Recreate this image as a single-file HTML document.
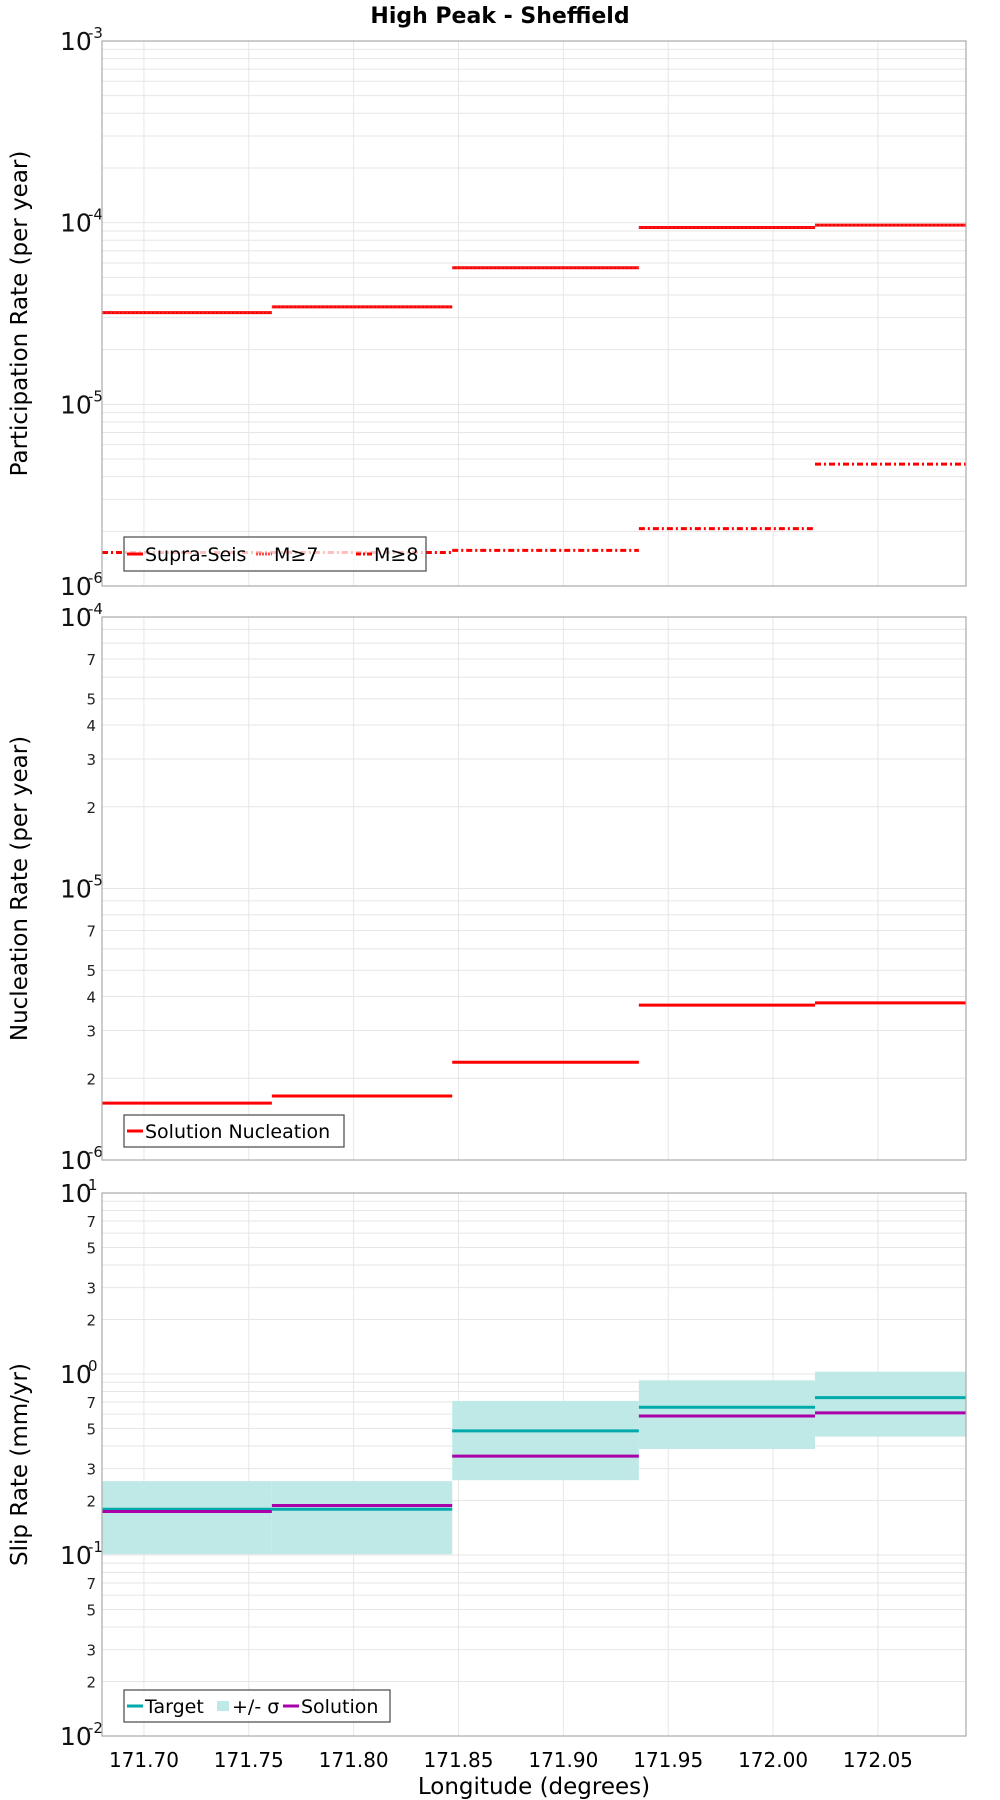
<!DOCTYPE html>
<html><head><meta charset="utf-8"><style>
html,body{margin:0;padding:0;background:#fff;}
svg{display:block;font-family:"DejaVu Sans","Liberation Sans",sans-serif;}
</style></head><body>
<svg id="chart" width="1000" height="1800" viewBox="0 0 1000 1800" xmlns="http://www.w3.org/2000/svg">
<text x="500" y="23" text-anchor="middle" font-size="22" font-weight="bold">High Peak - Sheffield</text>
</svg>
<script>
// Shared x data
const segEdges = [171.680, 171.761, 171.847, 171.936, 172.020, 172.092];
const xTicks = [171.70, 171.75, 171.80, 171.85, 171.90, 171.95, 172.00, 172.05];
const xTickLabels = ["171.70","171.75","171.80","171.85","171.90","171.95","172.00","172.05"];
// Panel 1: participation
const partSupra = [3.2e-5, 3.44e-5, 5.65e-5, 9.4e-5, 9.7e-5];
const partM7 = [3.2e-5, 3.44e-5, 5.65e-5, 9.4e-5, 9.7e-5];
const partM8 = [1.53e-6, 1.53e-6, 1.57e-6, 2.07e-6, 4.69e-6];
// Panel 2: nucleation
const nucl = [1.62e-6, 1.72e-6, 2.29e-6, 3.72e-6, 3.79e-6];
// Panel 3: slip
const slipTarget = [0.179, 0.179, 0.485, 0.655, 0.74];
const slipSolution = [0.174, 0.1876, 0.352, 0.586, 0.61];
const slipUpper = [0.256, 0.256, 0.71, 0.923, 1.03];
const slipLower = [0.101, 0.101, 0.259, 0.385, 0.451];

const NS = "http://www.w3.org/2000/svg";
const svg = document.getElementById("chart");
const L = 102, R = 966, XMIN = 171.680, XMAX = 172.092;
const xs = v => L + (v - XMIN) / (XMAX - XMIN) * (R - L);
function mk(tag, attrs, parent) {
  const e = document.createElementNS(NS, tag);
  for (const k in attrs) e.setAttribute(k, attrs[k]);
  (parent || svg).appendChild(e);
  return e;
}
function panel(name, top, bot, eMin, eMax, minorLabels, ytitle) {
  const g = mk("g", {});
  
  
  const ys = v => bot - (Math.log10(v) - eMin) / (eMax - eMin) * (bot - top);
  for (let e = eMin; e < eMax; e++) {
    for (let m = 1; m <= 9; m++) {
      const y = ys(m * Math.pow(10, e));
      mk("line", {x1: L, x2: R, y1: y, y2: y, stroke: "#e6e6e6", "stroke-width": 1}, g);
      if (m > 1 && minorLabels.includes(m)) {
        const t = mk("text", {x: L - 6, y: y + 6, "text-anchor": "end", "font-size": 15, fill: "#222"}, g);
        t.textContent = String(m);
        
        
      }
    }
  }
  xTicks.forEach(v => mk("line", {x1: xs(v), x2: xs(v), y1: top, y2: bot, stroke: "#e6e6e6"}, g));
  for (let e = eMin; e <= eMax; e++) {
    const y = ys(Math.pow(10, e));
    const t = mk("text", {x: 60, y: y + 9, "font-size": 25, fill: "#111"}, g);
    t.textContent = "10";
    
    
    const s = mk("text", {x: 88, y: y - 3, "font-size": 15, fill: "#111"}, g);
    s.textContent = String(e);
    
    
  }
  const yt = mk("text", {x: 0, y: 0, "font-size": 23, "text-anchor": "middle", transform: `translate(27,${(top + bot) / 2}) rotate(-90)`}, g);
  yt.textContent = ytitle;
  
  
  return {g, ys, frame: () => mk("rect", {x: L, y: top, width: R - L, height: bot - top, fill: "none", stroke: "#aaa", "stroke-width": 1.2}, g)};
}
function steps(p, vals, attrs, nm) {
  vals.forEach((v, i) => {
    const l = mk("line", Object.assign({x1: xs(segEdges[i]), x2: xs(segEdges[i + 1]), y1: p.ys(v), y2: p.ys(v)}, attrs), p.g);
    
    
  });
}
function legend(p, x, y, w, h, items) {
  const lg = mk("g", {}, p.g);
  
  
  mk("rect", {x, y, width: w, height: h, fill: "rgba(255,255,255,0.75)", stroke: "#555", "stroke-width": 1.3}, lg);
  items.forEach(it => {
    if (it.band) mk("rect", {x: it.x, y: y + h / 2 - 5, width: 12, height: 10, fill: "#bfe9e7"}, lg);
    else mk("line", Object.assign({x1: it.x, x2: it.x + 16, y1: y + h / 2, y2: y + h / 2}, it.st), lg);
    const t = mk("text", {x: it.x + (it.band ? 15 : 18), y: y + h / 2 + 7, "font-size": 19}, lg);
    t.textContent = it.label;
    
    
  });
}
const p1 = panel("participation-panel", 41, 586, -6, -3, [], "Participation Rate (per year)");
steps(p1, partSupra, {stroke: "#ff0000", "stroke-width": 3}, "supra-seis-line");
steps(p1, partM7, {stroke: "#e83030", "stroke-width": 1.5, "stroke-dasharray": "2 2"}, "m7-line");
steps(p1, partM8, {stroke: "#ff0000", "stroke-width": 3, "stroke-dasharray": "6 3 2 3"}, "m8-line");
legend(p1, 124, 537, 302, 34, [
  {x: 127, label: "Supra-Seis", st: {stroke: "#ff0000", "stroke-width": 3}},
  {x: 256, label: "M≥7", st: {stroke: "#ff5050", "stroke-width": 3, "stroke-dasharray": "2 1"}},
  {x: 356, label: "M≥8", st: {stroke: "#ff0000", "stroke-width": 3, "stroke-dasharray": "5 2 2 2"}}]);
p1.frame();
const p2 = panel("nucleation-panel", 617, 1160, -6, -4, [2, 3, 4, 5, 7], "Nucleation Rate (per year)");
steps(p2, nucl, {stroke: "#ff0000", "stroke-width": 3}, "nucleation-line");
legend(p2, 124, 1115, 220, 32, [{x: 127, label: "Solution Nucleation", st: {stroke: "#ff0000", "stroke-width": 3}}]);
p2.frame();
const p3 = panel("slip-panel", 1193, 1736, -2, 1, [2, 3, 5, 7], "Slip Rate (mm/yr)");
slipUpper.forEach((u, i) => {
  const r = mk("rect", {x: xs(segEdges[i]), y: p3.ys(u), width: xs(segEdges[i + 1]) - xs(segEdges[i]), height: p3.ys(slipLower[i]) - p3.ys(u), fill: "#bfe9e7"}, p3.g);
  
  
});
steps(p3, slipTarget, {stroke: "#00aaaa", "stroke-width": 3}, "target-line");
steps(p3, slipSolution, {stroke: "#aa00aa", "stroke-width": 3}, "solution-line");
legend(p3, 124, 1690, 266, 32, [
  {x: 127, label: "Target", st: {stroke: "#00aaaa", "stroke-width": 3}},
  {x: 217, band: true, label: "+/- σ"},
  {x: 283, label: "Solution", st: {stroke: "#aa00aa", "stroke-width": 3}}]);
p3.frame();
xTicks.forEach((v, i) => {
  const t = mk("text", {x: xs(v), y: 1767, "text-anchor": "middle", "font-size": 20});
  t.textContent = xTickLabels[i];
  
  
});
const xt = mk("text", {x: 534, y: 1794, "text-anchor": "middle", "font-size": 23});
xt.textContent = "Longitude (degrees)";


</script>
</body></html>
